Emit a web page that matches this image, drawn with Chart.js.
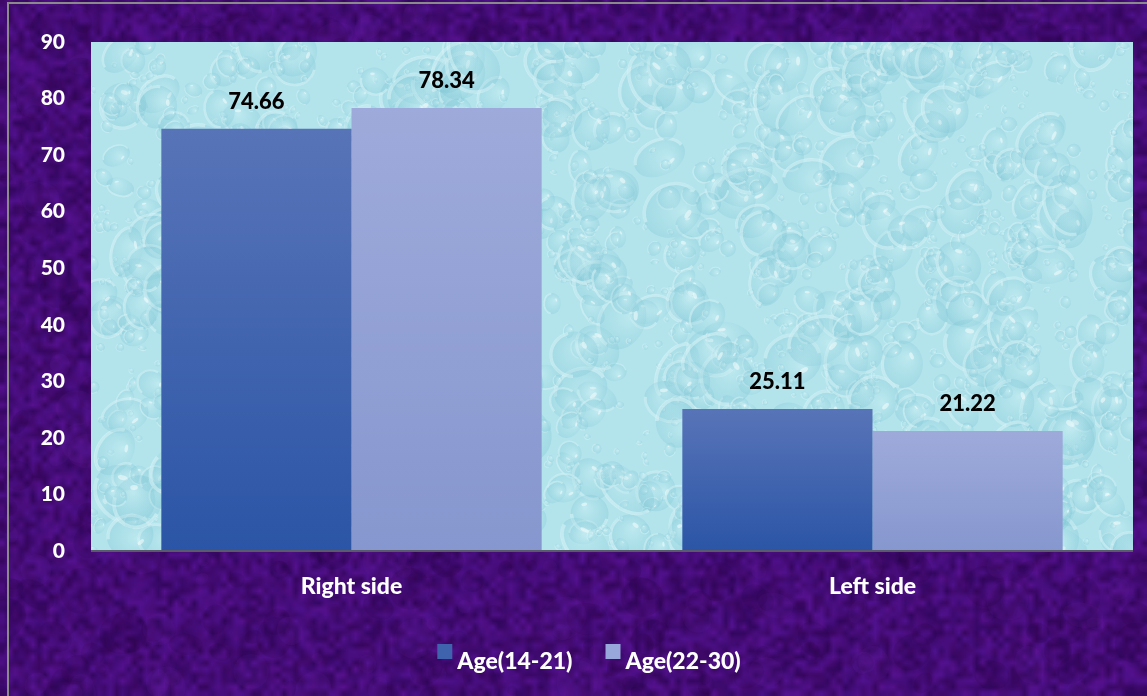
<!DOCTYPE html>
<html>
<head>
<meta charset="utf-8">
<script src="https://cdn.jsdelivr.net/npm/chart.js@4.4.1/dist/chart.umd.min.js"></script>
<style>
  html, body { margin: 0; padding: 0; background: #420c78; }
  #wrap { width: 1147px; height: 696px; position: relative; }
</style>
</head>
<body>
<div id="wrap"><canvas id="c" width="1147" height="696"></canvas></div>
<script>
// Side of the body, split by age group (percent)
const categories = ['Right side', 'Left side'];
const seriesNames = ['Age(14-21)', 'Age(22-30)'];
const age14to21 = [74.66, 25.11];
const age22to30 = [78.34, 21.22];
const yTicks = [0, 10, 20, 30, 40, 50, 60, 70, 80, 90];

const FONT = "Lato, 'Open Sans', sans-serif";
const WEIGHT = '900';
const SWATCH = ['#3f63ad', '#98a8da'];

// Small deterministic generator for the decorative textures
function lcg(seed) {
  let s = seed >>> 0;
  return () => { s = (s * 1664525 + 1013904223) >>> 0; return s / 4294967296; };
}

// Mottled purple backdrop: coarse noise scaled up smoothly
function makePurple(w, h) {
  const rnd = lcg(7);
  const small = document.createElement('canvas');
  small.width = Math.ceil(w / 6); small.height = Math.ceil(h / 6);
  const sc = small.getContext('2d');
  const img = sc.createImageData(small.width, small.height);
  for (let i = 0; i < small.width * small.height; i++) {
    const v = rnd();
    const t = rnd();
    img.data[i * 4] = 48 + v * 32 + t * 8;
    img.data[i * 4 + 1] = 6 + v * 12;
    img.data[i * 4 + 2] = 92 + v * 52;
    img.data[i * 4 + 3] = 255;
  }
  sc.putImageData(img, 0, 0);
  const big = document.createElement('canvas');
  big.width = w; big.height = h;
  const bc = big.getContext('2d');
  bc.imageSmoothingEnabled = true;
  bc.drawImage(small, 0, 0, w, h);
  for (let i = 0; i < 600; i++) {
    const x = rnd() * w, y = rnd() * h, r = 5 + rnd() * 16;
    bc.fillStyle = rnd() < 0.6 ? 'rgba(30,0,55,0.12)' : 'rgba(105,35,165,0.10)';
    bc.beginPath(); bc.ellipse(x, y, r, r * (0.6 + rnd() * 0.6), rnd() * 3, 0, Math.PI * 2); bc.fill();
  }
  return big;
}

// Light cyan panel with water drops
function makeDrops(w, h) {
  const rnd = lcg(42);
  const cv = document.createElement('canvas');
  cv.width = w; cv.height = h;
  const c = cv.getContext('2d');
  c.fillStyle = '#b3e4ec';
  c.fillRect(0, 0, w, h);
  for (let i = 0; i < 1700; i++) {
    const x = rnd() * w, y = rnd() * h;
    const r = 3 + Math.pow(rnd(), 3) * 24;
    const rx = r * (0.8 + rnd() * 0.5), ry = r * (0.7 + rnd() * 0.4);
    const rot = rnd() * Math.PI;
    c.save();
    c.translate(x, y); c.rotate(rot);
    const g = c.createRadialGradient(-rx * 0.3, -ry * 0.3, 1, 0, 0, Math.max(rx, ry));
    g.addColorStop(0, 'rgba(215,244,248,0.30)');
    g.addColorStop(0.65, 'rgba(140,205,218,0.22)');
    g.addColorStop(1, 'rgba(120,192,208,0.30)');
    c.fillStyle = g;
    c.beginPath(); c.ellipse(0, 0, rx, ry, 0, 0, Math.PI * 2); c.fill();
    c.strokeStyle = 'rgba(230,250,252,0.45)';
    c.lineWidth = Math.max(1, r * 0.14);
    c.beginPath(); c.ellipse(0, 0, rx * 0.95, ry * 0.95, 0, Math.PI * 0.05, Math.PI * 0.95); c.stroke();
    c.fillStyle = 'rgba(245,253,254,0.55)';
    c.beginPath(); c.ellipse(-rx * 0.35, -ry * 0.45, rx * 0.16, ry * 0.09, -0.4, 0, Math.PI * 2); c.fill();
    c.restore();
  }
  return cv;
}

const purpleTex = makePurple(1147, 696);
let dropTex = null;

const backdrop = {
  id: 'backdrop',
  beforeDraw(chart) {
    const { ctx, width, height, chartArea: a } = chart;
    ctx.save();
    ctx.drawImage(purpleTex, 0, 0, width, height);
    ctx.strokeStyle = '#8a8a8a';
    ctx.lineWidth = 2;
    ctx.beginPath();
    ctx.moveTo(8, height); ctx.lineTo(8, 3); ctx.lineTo(width, 3);
    ctx.stroke();
    const w = Math.round(a.right - a.left), h = Math.round(a.bottom - a.top);
    if (!dropTex || dropTex.width !== w || dropTex.height !== h) dropTex = makeDrops(w, h);
    ctx.drawImage(dropTex, a.left, a.top);
    ctx.restore();
  },
  afterDatasetsDraw(chart) {
    const { ctx, chartArea: a } = chart;
    ctx.save();
    ctx.strokeStyle = '#5a5a6a';
    ctx.lineWidth = 2;
    ctx.beginPath(); ctx.moveTo(a.left, a.bottom); ctx.lineTo(a.right, a.bottom); ctx.stroke();
    // value labels above bars
    ctx.fillStyle = '#000';
    ctx.font = WEIGHT + ' 22px ' + FONT;
    ctx.textAlign = 'center';
    ctx.textBaseline = 'middle';
    chart.data.datasets.forEach((ds, di) => {
      chart.getDatasetMeta(di).data.forEach((bar, i) => {
        ctx.fillText(ds.data[i].toFixed(2), bar.x, bar.y - 27);
      });
    });
    ctx.restore();
  },
  afterDraw(chart) {
    // legend row: square swatch, then series name
    const { ctx } = chart;
    ctx.save();
    ctx.font = WEIGHT + ' 23px ' + FONT;
    ctx.textBaseline = 'alphabetic';
    ctx.textAlign = 'left';
    const box = 15, gapText = 5, gapItem = 33;
    const items = chart.data.datasets.map((ds, i) => ({ label: ds.label, color: SWATCH[i], w: ctx.measureText(ds.label).width }));
    const total = items.reduce((s, it) => s + box + gapText + it.w, 0) + gapItem * (items.length - 1);
    let x = 589 - total / 2;
    const base = 669;
    items.forEach(it => {
      ctx.fillStyle = it.color;
      ctx.fillRect(x, 644, box, box);
      ctx.fillStyle = '#fff';
      ctx.fillText(it.label, x + box + gapText, base);
      x += box + gapText + it.w + gapItem;
    });
    ctx.restore();
  }
};

function barGradient(top, bottom) {
  return (context) => {
    const chart = context.chart;
    const ys = chart.scales.y;
    if (!ys || context.raw === undefined) return top;
    const yTop = ys.getPixelForValue(context.raw);
    const yBot = ys.getPixelForValue(0);
    if (!isFinite(yTop) || !isFinite(yBot)) return top;
    const g = chart.ctx.createLinearGradient(0, yTop, 0, yBot);
    g.addColorStop(0, top);
    g.addColorStop(1, bottom);
    return g;
  };
}

new Chart(document.getElementById('c'), {
  type: 'bar',
  data: {
    labels: categories,
    datasets: [
      { label: seriesNames[0], data: age14to21, backgroundColor: barGradient('#5874b8', '#2b55a6'), borderWidth: 0 },
      { label: seriesNames[1], data: age22to30, backgroundColor: barGradient('#9eaada', '#8697cf'), borderWidth: 0 }
    ]
  },
  options: {
    responsive: false,
    animation: false,
    devicePixelRatio: 1,
    layout: { padding: { top: 42, right: 14, left: 0, bottom: 0 } },
    datasets: { bar: { categoryPercentage: 0.73, barPercentage: 1 } },
    scales: {
      x: {
        grid: { display: false, drawTicks: false },
        border: { display: false },
        ticks: { color: '#fff', font: { family: FONT, size: 23, weight: WEIGHT }, padding: 22 },
        afterFit(s) { s.height = 145; }
      },
      y: {
        min: 0, max: 90,
        afterBuildTicks(s) { s.ticks = yTicks.map(v => ({ value: v })); },
        grid: { display: false, drawTicks: false },
        border: { display: false },
        ticks: { color: '#fff', font: { family: FONT, size: 21, weight: WEIGHT }, padding: 26 },
        afterFit(s) { s.width = 91; }
      }
    },
    plugins: {
      legend: { display: false },
      tooltip: { enabled: false }
    }
  },
  plugins: [backdrop]
});
</script>
</body>
</html>
